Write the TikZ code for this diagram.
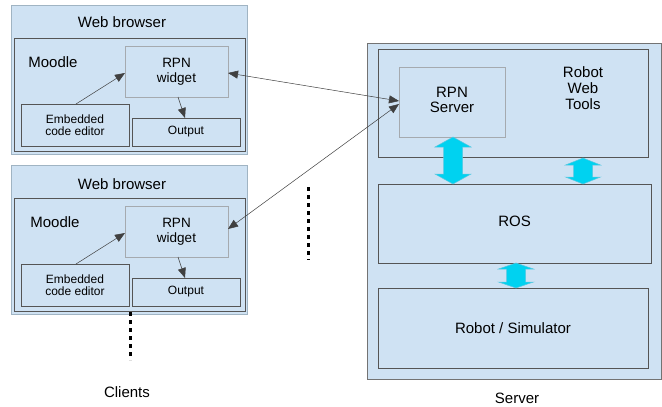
\documentclass[tikz,border=0pt]{standalone}
\usepackage{fontspec}
\setmainfont{Liberation Sans}
\usetikzlibrary{arrows.meta}
\definecolor{boxfill}{RGB}{207,226,243}
\definecolor{outerline}{RGB}{160,180,195}
\definecolor{darkline}{RGB}{85,85,85}
\definecolor{lightline}{RGB}{165,170,175}
\definecolor{cyanfill}{RGB}{0,210,240}
\definecolor{cyanline}{RGB}{90,200,225}
\tikzset{
  box/.style={draw, fill=boxfill, inner sep=0pt, outer sep=0pt, anchor=north west, line width=0.8pt},
  outerbox/.style={box, draw=outerline},
  darkbox/.style={box, draw=darkline},
  lightbox/.style={box, draw=lightline},
  txt/.style={inner sep=0pt, align=center, font=\fontsize{15}{16}\selectfont},
  smalltxt/.style={align=center, font=\fontsize{12}{12}\selectfont},
  midtxt/.style={align=center, font=\fontsize{13.5}{15}\selectfont},
  conn/.style={-{Triangle[length=10pt,width=8pt]}, line width=0.5pt, draw=black!75},
  biconn/.style={{Triangle[length=10pt,width=8pt]}-{Triangle[length=10pt,width=8pt]}, line width=0.5pt, draw=black!75},
  dots/.style={line width=3pt, dash pattern=on 4pt off 4pt},
  cyanarrow/.style={fill=cyanfill, draw=cyanline, line width=0.5pt}
}
\newcommand\cyanarr[5]{% x, ytop, ybot, head half width, head length
  \filldraw[cyanarrow] (#1,#2) -- ({#1+#4},{#2+#5}) -- ({#1+9.5},{#2+#5}) -- ({#1+9.5},{#3-#5})
   -- ({#1+#4},{#3-#5}) -- (#1,#3) -- ({#1-#4},{#3-#5}) -- ({#1-9.5},{#3-#5})
   -- ({#1-9.5},{#2+#5}) -- ({#1-#4},{#2+#5}) -- cycle;}
\begin{document}
\begin{tikzpicture}[x=1pt,y=-1pt]
\useasboundingbox[fill=white] (0,0) rectangle (662,407);

% ---------- client 1 ----------
\node[outerbox, minimum width=236pt, minimum height=149pt] (wb1) at (11,5) {};
\node[txt] (wb1t) at (122,22) {Web browser};
\node[darkbox, minimum width=231pt, minimum height=113pt] (md1) at (14,38) {};
\node[txt] (md1t) at (53,62) {Moodle};
\node[lightbox, minimum width=103pt, minimum height=51pt, midtxt] (rw1) at (125,46) {RPN\\widget};
\node[darkbox, minimum width=108pt, minimum height=42pt, smalltxt] (ed1) at (21,104) {Embedded\\code editor};
\node[darkbox, minimum width=108pt, minimum height=28pt, smalltxt] (op1) at (132,118) {Output};
\draw[conn] (ed1.north -| 76,0) -- (rw1.west |- 0,73);
\draw[conn] (rw1.south -| 178,0) -- (op1.north -| 185,0);

% ---------- client 2 ----------
\node[outerbox, minimum width=236pt, minimum height=149pt] (wb2) at (11,165) {};
\node[txt] (wb2t) at (122,184) {Web browser};
\node[darkbox, minimum width=231pt, minimum height=113pt] (md2) at (14,198) {};
\node[txt] (md2t) at (55,222) {Moodle};
\node[lightbox, minimum width=103pt, minimum height=51pt, midtxt] (rw2) at (125,206) {RPN\\widget};
\node[darkbox, minimum width=108pt, minimum height=42pt, smalltxt] (ed2) at (21,264) {Embedded\\code editor};
\node[darkbox, minimum width=108pt, minimum height=28pt, smalltxt] (op2) at (132,278) {Output};
\draw[conn] (ed2.north -| 76,0) -- (rw2.west |- 0,233);
\draw[conn] (rw2.south -| 178,0) -- (op2.north -| 185,0);

% dots
\coordinate (d1a) at (130,312);
\coordinate (d1b) at (130,360);
\draw[dots] (d1a) -- (d1b);
\coordinate (d2a) at (308,187);
\coordinate (d2b) at (308,260);
\draw[dots] (d2a) -- (d2b);
\node[txt] (clients) at (127,392) {Clients};

% ---------- server ----------
\node[darkbox, draw=black!55, minimum width=294pt, minimum height=336pt] (srv) at (367,43) {};
\node[darkbox, minimum width=270pt, minimum height=108pt] (rwt) at (378,49) {};
\node[txt] (rwtt) at (583,88) {Robot\\Web\\Tools};
\node[lightbox, minimum width=106pt, minimum height=70pt, txt] (rpns) at (399,67) {\raisebox{4pt}{\begin{tabular}{@{}c@{}}RPN\\[-1pt]Server\end{tabular}}};
\node[darkbox, minimum width=273pt, minimum height=79pt, txt] (ros) at (378,184) {\raisebox{4pt}{ROS}};
\node[darkbox, minimum width=270pt, minimum height=80pt, txt] (sim) at (378,288) {Robot / Simulator};
\node[txt] (srvt) at (517,398) {Server};

% connectors client -> server
\draw[biconn] (rw1.east |- 0,73) -- (rpns.west |- 0,101);
\draw[biconn] (rw2.east |- 0,229) -- (rpns.west |- 0,104);

% cyan double arrows
\cyanarr{453}{137}{184}{18}{10}
\cyanarr{583}{158}{184}{17.5}{7}
\cyanarr{516}{263}{288}{17.5}{6}
\end{tikzpicture}
\end{document}
